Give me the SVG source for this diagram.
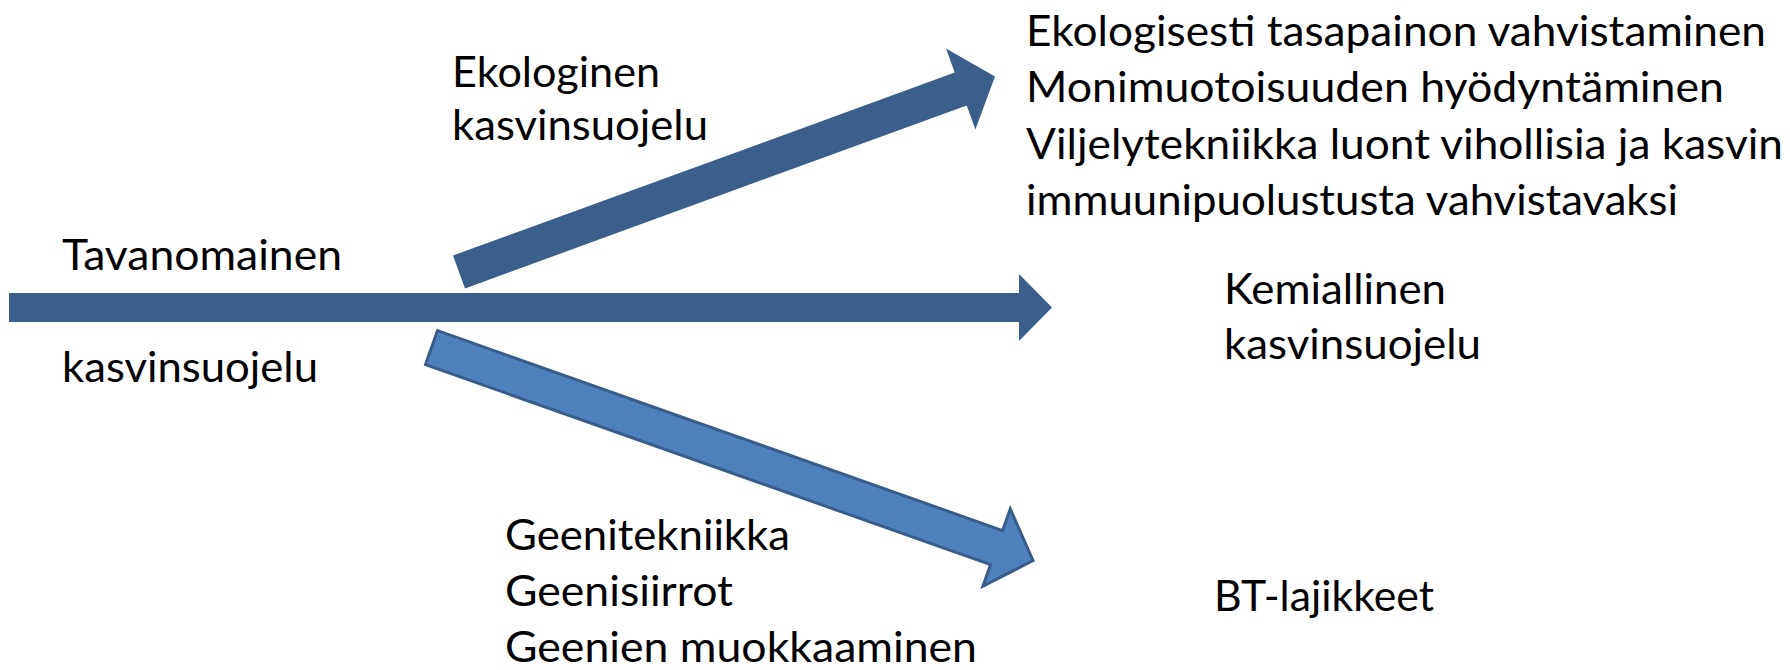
<svg xmlns="http://www.w3.org/2000/svg" width="1790" height="670" viewBox="0 0 1790 670">
<style>
text{font-family:Lato,"Open Sans","Liberation Sans",sans-serif;font-size:43px;fill:#000}
.dark{fill:#3A5F8B}
.light{fill:#4F81BD;stroke:#385D8A;stroke-width:3;stroke-linejoin:miter}
</style>
<rect width="1790" height="670" fill="#fff"/>
<g id="connectors">
<polygon class="dark" points="9,293 1019,293 1019,274 1052,307.5 1019,341 1019,322 9,322"/>
<polygon class="dark" points="453,255.6 954.7,72.6 946,48.6 995,76.5 975.4,129.4 966.7,105.4 465,288.4"/>
<polygon class="light" points="437.5,330.6 1002.6,530.6 1010.3,508.9 1033,560.5 982.9,586.3 990.6,564.6 425.5,364.6"/>
</g>
<g id="tavanomainen">
<text x="62" y="270" textLength="280" lengthAdjust="spacingAndGlyphs">Tavanomainen</text>
<text x="62" y="382" textLength="256" lengthAdjust="spacingAndGlyphs">kasvinsuojelu</text>
</g>
<g id="ekologinen">
<text x="452" y="87" textLength="208" lengthAdjust="spacingAndGlyphs">Ekologinen</text>
<text x="452" y="140" textLength="256" lengthAdjust="spacingAndGlyphs">kasvinsuojelu</text>
</g>
<g id="ekologinen-kuvaus">
<text x="1026" y="46" textLength="740" lengthAdjust="spacingAndGlyphs">Ekologisesti tasapainon vahvistaminen</text>
<text x="1026" y="102" textLength="698" lengthAdjust="spacingAndGlyphs">Monimuotoisuuden hyödyntäminen</text>
<text x="1026" y="159" textLength="757" lengthAdjust="spacingAndGlyphs">Viljelytekniikka luont vihollisia ja kasvin</text>
<text x="1026" y="215" textLength="652" lengthAdjust="spacingAndGlyphs">immuunipuolustusta vahvistavaksi</text>
</g>
<g id="kemiallinen">
<text x="1224" y="304" textLength="222" lengthAdjust="spacingAndGlyphs">Kemiallinen</text>
<text x="1224" y="359" textLength="257" lengthAdjust="spacingAndGlyphs">kasvinsuojelu</text>
</g>
<g id="geenitekniikka">
<text x="505" y="550" textLength="285" lengthAdjust="spacingAndGlyphs">Geenitekniikka</text>
<text x="505" y="606" textLength="228" lengthAdjust="spacingAndGlyphs">Geenisiirrot</text>
<text x="505" y="662" textLength="472" lengthAdjust="spacingAndGlyphs">Geenien muokkaaminen</text>
</g>
<g id="bt-lajikkeet">
<text x="1214" y="611" textLength="220" lengthAdjust="spacingAndGlyphs">BT-lajikkeet</text>
</g>
</svg>
